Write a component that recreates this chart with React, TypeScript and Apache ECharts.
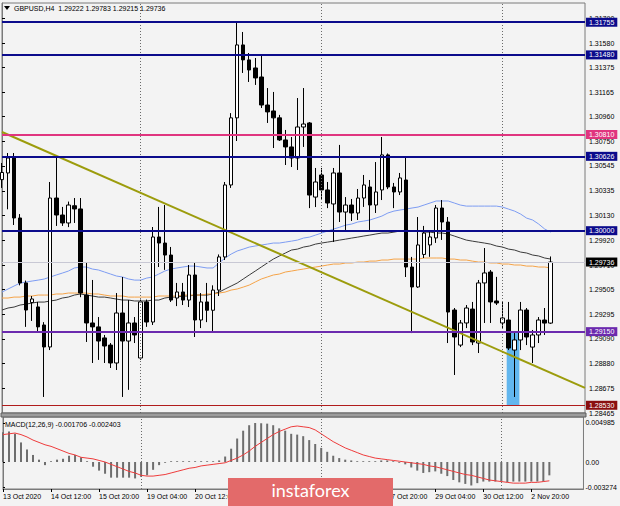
import React, { useEffect, useRef } from 'react';
import * as echarts from 'echarts';

// ---------- data ----------
const timeLabels = ['13 Oct 2020', '14 Oct 12:00', '15 Oct 20:00', '19 Oct 04:00', '20 Oct 12:00', '21 Oct 20:00', '23 Oct 04:00', '26 Oct 12:00', '27 Oct 20:00', '29 Oct 04:00', '30 Oct 12:00', '2 Nov 20:00'];
const barsPerLabel = 8;
const weekStarts = [23, 53, 83];

const opens = [
  1.30430, 1.30486, 1.30612, 1.30107, 1.29560, 1.29395, 1.29358, 1.29206, 1.29021, 1.30275,
  1.30132, 1.30065, 1.30210, 1.30183, 1.29458, 1.29223, 1.29190, 1.29097, 1.29037, 1.28886,
  1.29307, 1.29071, 1.29223, 1.28928, 1.29400, 1.29231, 1.29947, 1.29896, 1.29795, 1.29433,
  1.29484, 1.29416, 1.29627, 1.29248, 1.29400, 1.29330, 1.29500, 1.29779, 1.30385, 1.30950,
  1.31564, 1.31438, 1.31370, 1.31294, 1.31058, 1.31008, 1.30950, 1.30764, 1.30705, 1.30612,
  1.30873, 1.30907, 1.30283, 1.30469, 1.30343, 1.30225, 1.30486, 1.30157, 1.30216, 1.30149,
  1.30275, 1.30368, 1.30216, 1.30343, 1.30638, 1.30368, 1.30326, 1.30427, 1.29694, 1.29526,
  1.29800, 1.29880, 1.29939, 1.30191, 1.30073, 1.29332, 1.29037, 1.29223, 1.29340, 1.29054,
  1.29560, 1.29652, 1.29408, 1.29223, 1.29248, 1.28995, 1.29080, 1.29332, 1.29020, 1.29122,
  1.29248, 1.29222,
];
const closes = [
  1.30490, 1.30612, 1.30107, 1.29560, 1.29332, 1.29425, 1.29190, 1.29021, 1.30275, 1.30132,
  1.30065, 1.30216, 1.30183, 1.29475, 1.29223, 1.29190, 1.29071, 1.29029, 1.28886, 1.29307,
  1.29071, 1.29223, 1.29122, 1.29400, 1.29231, 1.29947, 1.29896, 1.29795, 1.29416, 1.29484,
  1.29416, 1.29627, 1.29248, 1.29400, 1.29330, 1.29500, 1.29779, 1.30385, 1.30950, 1.31564,
  1.31438, 1.31353, 1.31286, 1.31058, 1.31000, 1.30950, 1.30764, 1.30705, 1.30612, 1.30873,
  1.30898, 1.30300, 1.30410, 1.30343, 1.30233, 1.30486, 1.30157, 1.30216, 1.30149, 1.30275,
  1.30385, 1.30216, 1.30326, 1.30638, 1.30368, 1.30326, 1.30444, 1.29694, 1.29526, 1.29880,
  1.29980, 1.29947, 1.30191, 1.30073, 1.29315, 1.29105, 1.29223, 1.29349, 1.29063, 1.29560,
  1.29644, 1.29400, 1.29391, 1.29265, 1.29012, 1.29080, 1.29332, 1.29105, 1.29122, 1.29248,
  1.29222, 1.29736,
];
const lows = [
  1.30360, 1.30180, 1.30048, 1.29540, 1.29190, 1.29240, 1.29140, 1.28600, 1.28995, 1.30040,
  1.30040, 1.30030, 1.30065, 1.29440, 1.29063, 1.28886, 1.28912, 1.28886, 1.28844, 1.28827,
  1.28600, 1.28660, 1.29054, 1.28912, 1.29190, 1.29206, 1.29694, 1.29670, 1.29400, 1.29365,
  1.29374, 1.29357, 1.29105, 1.29180, 1.29230, 1.29150, 1.29450, 1.29753, 1.30360, 1.30755,
  1.31328, 1.31252, 1.31227, 1.31033, 1.30907, 1.30696, 1.30755, 1.30553, 1.30536, 1.30511,
  1.30705, 1.30190, 1.30199, 1.30258, 1.30190, 1.29905, 1.30073, 1.30006, 1.30082, 1.30090,
  1.30200, 1.30006, 1.30149, 1.30258, 1.30350, 1.30190, 1.30300, 1.29610, 1.29138, 1.29518,
  1.29770, 1.29780, 1.29897, 1.29922, 1.29054, 1.28785, 1.29020, 1.29180, 1.29037, 1.28970,
  1.29223, 1.29223, 1.29374, 1.29180, 1.28995, 1.28600, 1.28995, 1.29037, 1.28886, 1.29054,
  1.29122, 1.29215,
];
const highs = [
  1.30570, 1.30654, 1.30654, 1.30140, 1.29580, 1.29450, 1.29400, 1.29230, 1.30410, 1.30620,
  1.30200, 1.30245, 1.30275, 1.30275, 1.29728, 1.29585, 1.29273, 1.29122, 1.29054, 1.29475,
  1.29610, 1.29416, 1.29273, 1.29420, 1.29420, 1.30031, 1.30200, 1.30216, 1.29863, 1.29560,
  1.29560, 1.29711, 1.29736, 1.29475, 1.29560, 1.29540, 1.29800, 1.30410, 1.30990, 1.31749,
  1.31673, 1.31496, 1.31454, 1.31480, 1.31201, 1.31168, 1.30975, 1.30848, 1.30789, 1.31117,
  1.31201, 1.30915, 1.30528, 1.30528, 1.30410, 1.30528, 1.30722, 1.30283, 1.30267, 1.30351,
  1.30469, 1.30427, 1.30578, 1.30789, 1.30650, 1.30402, 1.30486, 1.30612, 1.29779, 1.30115,
  1.30040, 1.30000, 1.30216, 1.30258, 1.30115, 1.29349, 1.29248, 1.29374, 1.29400, 1.29585,
  1.29854, 1.29669, 1.29611, 1.29400, 1.29400, 1.29138, 1.29400, 1.29349, 1.29164, 1.29273,
  1.29349, 1.29783,
];

const maBlue = [
  1.29483, 1.29509, 1.29534, 1.29559, 1.29568, 1.29576, 1.29584, 1.29593, 1.29610, 1.29627,
  1.29643, 1.29660, 1.29686, 1.29694, 1.29694, 1.29677, 1.29669, 1.29652, 1.29635, 1.29618,
  1.29610, 1.29593, 1.29584, 1.29584, 1.29601, 1.29610, 1.29635, 1.29660, 1.29677, 1.29686,
  1.29694, 1.29702, 1.29702, 1.29694, 1.29686, 1.29686, 1.29728, 1.29770, 1.29803, 1.29829,
  1.29845, 1.29862, 1.29871, 1.29879, 1.29887, 1.29896, 1.29896, 1.29904, 1.29912, 1.29921,
  1.29938, 1.29946, 1.29963, 1.29980, 1.29997, 1.30014, 1.30029, 1.30047, 1.30056, 1.30073,
  1.30081, 1.30090, 1.30106, 1.30123, 1.30149, 1.30165, 1.30174, 1.30182, 1.30191, 1.30199,
  1.30216, 1.30233, 1.30250, 1.30250, 1.30250, 1.30233, 1.30216, 1.30207, 1.30207, 1.30207,
  1.30207, 1.30207, 1.30207, 1.30199, 1.30182, 1.30165, 1.30140, 1.30106, 1.30090, 1.30056,
  1.30014, 1.29988,
];
const maBlack = [
  1.29332, 1.29349, 1.29357, 1.29374, 1.29382, 1.29391, 1.29399, 1.29399, 1.29408, 1.29416,
  1.29433, 1.29441, 1.29458, 1.29467, 1.29458, 1.29450, 1.29441, 1.29441, 1.29433, 1.29424,
  1.29416, 1.29416, 1.29408, 1.29408, 1.29408, 1.29416, 1.29416, 1.29433, 1.29441, 1.29441,
  1.29450, 1.29450, 1.29458, 1.29458, 1.29458, 1.29467, 1.29483, 1.29509, 1.29534, 1.29559,
  1.29593, 1.29627, 1.29660, 1.29694, 1.29728, 1.29761, 1.29787, 1.29812, 1.29837, 1.29845,
  1.29862, 1.29871, 1.29887, 1.29896, 1.29904, 1.29912, 1.29921, 1.29929, 1.29938, 1.29946,
  1.29955, 1.29963, 1.29972, 1.29980, 1.29980, 1.29988, 1.29997, 1.30005, 1.29997, 1.29997,
  1.29988, 1.29988, 1.29980, 1.29980, 1.29972, 1.29955, 1.29938, 1.29921, 1.29912, 1.29904,
  1.29896, 1.29887, 1.29871, 1.29862, 1.29845, 1.29837, 1.29820, 1.29812, 1.29795, 1.29787,
  1.29770, 1.29761,
];
const maOrange = [
  1.29433, 1.29433, 1.29441, 1.29441, 1.29450, 1.29450, 1.29458, 1.29458, 1.29458, 1.29467,
  1.29467, 1.29475, 1.29475, 1.29475, 1.29475, 1.29467, 1.29467, 1.29458, 1.29450, 1.29450,
  1.29450, 1.29441, 1.29441, 1.29441, 1.29441, 1.29441, 1.29450, 1.29450, 1.29450, 1.29450,
  1.29458, 1.29458, 1.29458, 1.29458, 1.29467, 1.29467, 1.29475, 1.29483, 1.29500, 1.29509,
  1.29525, 1.29542, 1.29568, 1.29593, 1.29610, 1.29627, 1.29635, 1.29652, 1.29660, 1.29669,
  1.29677, 1.29686, 1.29694, 1.29702, 1.29711, 1.29719, 1.29719, 1.29728, 1.29728, 1.29736,
  1.29736, 1.29744, 1.29744, 1.29753, 1.29753, 1.29761, 1.29761, 1.29761, 1.29761, 1.29761,
  1.29770, 1.29770, 1.29770, 1.29770, 1.29761, 1.29761, 1.29753, 1.29753, 1.29744, 1.29736,
  1.29736, 1.29728, 1.29728, 1.29719, 1.29719, 1.29711, 1.29711, 1.29702, 1.29702, 1.29694,
  1.29694, 1.29686,
];

const macdMain = [
  0.0038, 0.0039, 0.0036, 0.0025, 0.0016, 0.0009, 0.0003, -0.0004, 0.0001, 0.0003,
  0.0004, 0.0008, 0.0009, 0.0006, 0.0001, -0.0006, -0.0011, -0.0015, -0.0020, -0.0020,
  -0.0020, -0.0020, -0.0021, -0.0019, -0.0017, -0.0010, -0.0004, -0.0001, 0.0001, 0.0001,
  0.0001, 0.0001, 0.0001, 0.0001, 0.0001, 0.0001, 0.0002, 0.0007, 0.0017, 0.0030,
  0.0040, 0.0047, 0.004985, 0.00495, 0.0049, 0.0047, 0.0043, 0.0040, 0.0036, 0.0035,
  0.0033, 0.0028, 0.0023, 0.0018, 0.0013, 0.0008, 0.0005, 0.0003, 0.0002, 0.0001,
  0.0001, 0.0001, 0.0001, 0.0002, 0.0002, 0.0001, -0.0001, -0.0003, -0.0007, -0.0011,
  -0.0014, -0.0013, -0.0012, -0.0015, -0.0018, -0.0023, -0.0026, -0.0028, -0.0030, -0.0027,
  -0.0025, -0.0025, -0.0025, -0.0025, -0.0026, -0.0025, -0.0025, -0.0025, -0.0025, -0.0025,
  -0.0025, -0.001706,
];
const macdSignal = [
  0.0035, 0.0036, 0.0037, 0.0035, 0.0032, 0.0028, 0.0025, 0.0022, 0.0020, 0.0017,
  0.0014, 0.0011, 0.0009, 0.0006, 0.0005, 0.0004, 0.0002, 0.0000, -0.0003, -0.0006,
  -0.0009, -0.0012, -0.0014, -0.0017, -0.0018, -0.0018, -0.0017, -0.0016, -0.0014, -0.0012,
  -0.0010, -0.0008, -0.0007, -0.0005, -0.0004, -0.0003, -0.0002, -0.0001, 0.0002, 0.0005,
  0.0009, 0.0014, 0.0020, 0.0025, 0.0030, 0.0035, 0.0039, 0.0042, 0.0045, 0.0046,
  0.0045, 0.0044, 0.0041, 0.0036, 0.0031, 0.0026, 0.0022, 0.0018, 0.0015, 0.0012,
  0.0009, 0.0007, 0.0005, 0.0004, 0.0003, 0.0002, 0.0001, 0.0000, -0.0001, -0.0002,
  -0.0003, -0.0005, -0.0006, -0.0008, -0.0010, -0.0012, -0.0014, -0.0016, -0.0017, -0.0019,
  -0.0021, -0.0023, -0.0024, -0.0025, -0.0026, -0.0027, -0.0027, -0.0027, -0.0026, -0.0026,
  -0.0025, -0.002403,
];

const priceTicks = [1.28465, 1.28675, 1.28880, 1.29090, 1.29295, 1.29505, 1.29710, 1.29920, 1.30130, 1.30335, 1.30545, 1.30750, 1.30960, 1.31165, 1.31375, 1.31580, 1.31790];
const priceRange = [1.28465, 1.31917];
const macdTicks = [0.004985, 0, -0.003274];
const macdTickLabels = ['0.004985', '0.00', '-0.003274'];
const macdRange = [-0.00345, 0.00575];
const levelPrices = [1.31755, 1.31480, 1.30810, 1.30626, 1.30000, 1.29150, 1.28530];
const trendPrices = [1.30831, 1.28676]; // at left edge / right edge of the visible window
const boxBars = [83.7, 85.8];
const boxPrices = [1.29150, 1.28530];

// ---------- styles ----------
const FONT = "'Liberation Sans', Arial, sans-serif";
const BG = '#f3f3f3';
const PLOT_LEFT = 2;
const PLOT_W = 583;
const PX_PER_BAR = 6.03;
const X_MAX = PLOT_W / PX_PER_BAR;
const levelColors = ['#0b0b8c', '#0b0b8c', '#e0357f', '#0b0b8c', '#0b0b8c', '#6b2aae', '#b01c1c'];
const levelBoxColors = ['#0b0b8c', '#0b0b8c', '#e0357f', '#0b0b8c', '#0b0b8c', '#6b2aae', '#8a0f0f'];
const levelWidths = [2, 2, 2, 2, 2, 2, 1];

function boxLabel(text: string, bg: string) {
  return {
    show: true, position: 'end', distance: 1, formatter: text, color: '#ffffff',
    backgroundColor: bg, padding: [1, 3, 1, 3], fontSize: 7, fontFamily: FONT,
  };
}

function buildOption() {
  const last = closes.length - 1;
  const candles = opens.map((o, i) => [i, o, closes[i], lows[i], highs[i]]);
  const levelLines: any[] = levelPrices.map((p, i) => [
    { coord: [0, p], lineStyle: { color: levelColors[i], width: levelWidths[i], type: 'solid' }, label: boxLabel(p.toFixed(5), levelBoxColors[i]) },
    { coord: [X_MAX, p], lineStyle: { color: levelColors[i], width: levelWidths[i], type: 'solid' }, label: boxLabel(p.toFixed(5), levelBoxColors[i]) },
  ]);
  const bidStyle = { color: '#c8c8d4', width: 1, type: 'solid' };
  const bidLine = [
    { coord: [0, closes[last]], lineStyle: bidStyle, label: boxLabel(closes[last].toFixed(5), '#000000') },
    { coord: [X_MAX, closes[last]], lineStyle: bidStyle, label: boxLabel(closes[last].toFixed(5), '#000000') },
  ];
  const sepStyle = { color: '#6a6a6a', width: 1, type: [1, 2] };
  const sepMain = weekStarts.map((k) => [
    { coord: [k, priceRange[0]], lineStyle: sepStyle, label: { show: false } },
    { coord: [k, priceRange[1]], lineStyle: sepStyle, label: { show: false } },
  ]);
  const sepMacd = weekStarts.map((k) => [
    { coord: [k, macdRange[0]], lineStyle: sepStyle, label: { show: false } },
    { coord: [k, macdRange[1]], lineStyle: sepStyle, label: { show: false } },
  ]);
  const trendStyle = { color: '#9c9c0c', width: 2, type: 'solid' };
  const trendLine = [
    { coord: [0, trendPrices[0]], lineStyle: trendStyle, label: { show: false } },
    { coord: [X_MAX, trendPrices[1]], lineStyle: trendStyle, label: { show: false } },
  ];

  const header = `GBPUSD,H4  ${opens[last].toFixed(5)} ${highs[last].toFixed(5)} ${lows[last].toFixed(5)} ${closes[last].toFixed(5)}`;
  const macdTitle = `MACD(12,26,9) ${macdMain[last].toFixed(6)} ${macdSignal[last].toFixed(6)}`;
  const labelTicks = timeLabels.map((_, i) => i * barsPerLabel);

  const axisLabelBase = { fontSize: 7, color: '#000000', fontFamily: FONT };

  return {
    animation: false,
    backgroundColor: BG,
    textStyle: { fontFamily: FONT },
    grid: [
      { left: PLOT_LEFT, top: 3, width: PLOT_W, height: 410, show: true, borderColor: '#7a7a7a', borderWidth: 1, backgroundColor: 'transparent' },
      { left: PLOT_LEFT, top: 417, width: PLOT_W, height: 72, show: true, borderColor: '#7a7a7a', borderWidth: 1, backgroundColor: 'transparent' },
    ],
    xAxis: [
      {
        type: 'value', gridIndex: 0, min: 0, max: X_MAX,
        axisLine: { show: false }, axisTick: { show: false }, axisLabel: { show: false }, splitLine: { show: false },
      },
      {
        type: 'value', gridIndex: 1, min: 0, max: X_MAX,
        axisLine: { show: true, onZero: false, lineStyle: { color: '#7a7a7a' } },
        axisTick: { show: true, customValues: labelTicks, length: 3, lineStyle: { color: '#000000' } },
        axisLabel: {
          ...axisLabelBase, customValues: labelTicks, align: 'left', margin: 4,
          formatter: (v: number) => timeLabels[Math.round(v / barsPerLabel)] ?? '',
        },
        splitLine: { show: false },
      },
    ],
    yAxis: [
      {
        type: 'value', gridIndex: 0, position: 'right', min: priceRange[0], max: priceRange[1], scale: true,
        axisLine: { show: true, lineStyle: { color: '#7a7a7a' } },
        axisTick: { show: true, customValues: priceTicks, length: 3, lineStyle: { color: '#000000' } },
        axisLabel: { ...axisLabelBase, customValues: priceTicks, margin: 4, formatter: (v: number) => v.toFixed(5) },
        splitLine: { show: false },
      },
      {
        type: 'value', gridIndex: 1, position: 'right', min: macdRange[0], max: macdRange[1], scale: true,
        axisLine: { show: true, lineStyle: { color: '#7a7a7a' } },
        axisTick: { show: true, customValues: macdTicks, length: 2, lineStyle: { color: '#000000' } },
        axisLabel: {
          ...axisLabelBase, customValues: macdTicks, margin: 2,
          formatter: (v: number) => {
            const i = macdTicks.findIndex((t) => Math.abs(t - v) < 1e-9);
            return i >= 0 ? macdTickLabels[i] : '';
          },
        },
        splitLine: { show: false },
      },
    ],
    series: [
      {
        type: 'line', name: 'MA blue', xAxisIndex: 0, yAxisIndex: 0, z: 2,
        data: maBlue.map((v, i) => [i, v]), showSymbol: false, symbol: 'none',
        lineStyle: { color: '#7d9cf2', width: 1 },
        markArea: {
          silent: true,
          itemStyle: { color: '#62b6ee' },
          data: [[{ coord: [boxBars[0], boxPrices[0]] }, { coord: [boxBars[1], boxPrices[1]] }]],
        },
        markLine: {
          silent: true, symbol: ['none', 'none'], animation: false,
          data: [...sepMain, trendLine],
        },
      },
      {
        type: 'line', name: 'MA black', xAxisIndex: 0, yAxisIndex: 0, z: 2,
        data: maBlack.map((v, i) => [i, v]), showSymbol: false, symbol: 'none',
        lineStyle: { color: '#3a3a3a', width: 1 },
        markLine: {
          silent: true, symbol: ['none', 'none'], animation: false,
          data: [...levelLines, bidLine],
        },
      },
      {
        type: 'line', name: 'MA orange', xAxisIndex: 0, yAxisIndex: 0, z: 2,
        data: maOrange.map((v, i) => [i, v]), showSymbol: false, symbol: 'none',
        lineStyle: { color: '#f5a347', width: 1 },
      },
      {
        type: 'candlestick', name: 'GBPUSD', xAxisIndex: 0, yAxisIndex: 0, z: 3,
        data: candles, barWidth: 4,
        itemStyle: { color: '#ffffff', color0: '#000000', borderColor: '#000000', borderColor0: '#000000', borderWidth: 1 },
      },
      {
        type: 'bar', name: 'MACD', xAxisIndex: 1, yAxisIndex: 1,
        data: macdMain.map((v, i) => [i, v]), barWidth: 2,
        itemStyle: { color: '#6e6e6e' },
      },
      {
        type: 'line', name: 'Signal', xAxisIndex: 1, yAxisIndex: 1, z: 3,
        data: macdSignal.map((v, i) => [i, v]), showSymbol: false, symbol: 'none',
        lineStyle: { color: '#ee3b3b', width: 1 },
        markLine: {
          silent: true, symbol: ['none', 'none'], animation: false,
          data: sepMacd,
        },
      },
    ],
    graphic: [
      { type: 'rect', z: 50, shape: { x: 1, y: 413, width: 585, height: 4 }, style: { fill: '#9c9c9c', stroke: '#5e5e5e', lineWidth: 1 } },
      { type: 'polygon', z: 50, shape: { points: [[4, 6], [10, 6], [7, 10]] }, style: { fill: '#000000' } },
      { type: 'text', z: 50, x: 14, y: 8, style: { text: header, fontSize: 7, fill: '#000000', font: `7px ${FONT}`, verticalAlign: 'middle', align: 'left' } },
      { type: 'text', z: 50, x: 5, y: 424, style: { text: macdTitle, fontSize: 7, fill: '#000000', font: `7px ${FONT}`, verticalAlign: 'middle', align: 'left' } },
      { type: 'rect', z: 100, shape: { x: 228, y: 478, width: 165, height: 30 }, style: { fill: '#e36a6a' } },
      { type: 'text', z: 101, x: 310.5, y: 490, style: { text: 'instaforex', fill: '#ffffff', font: "18px Lato, 'Open Sans', sans-serif", align: 'center', verticalAlign: 'middle' } },
    ],
  };
}

export default function App() {
  const ref = useRef<HTMLDivElement>(null);
  useEffect(() => {
    if (!ref.current) return;
    const chart = echarts.init(ref.current, null, { renderer: 'svg' });
    chart.setOption(buildOption() as any);
    return () => chart.dispose();
  }, []);
  return (
    <div
      ref={ref}
      style={{ position: 'fixed', left: 0, top: 0, width: 620, height: 506, background: BG }}
    />
  );
}
